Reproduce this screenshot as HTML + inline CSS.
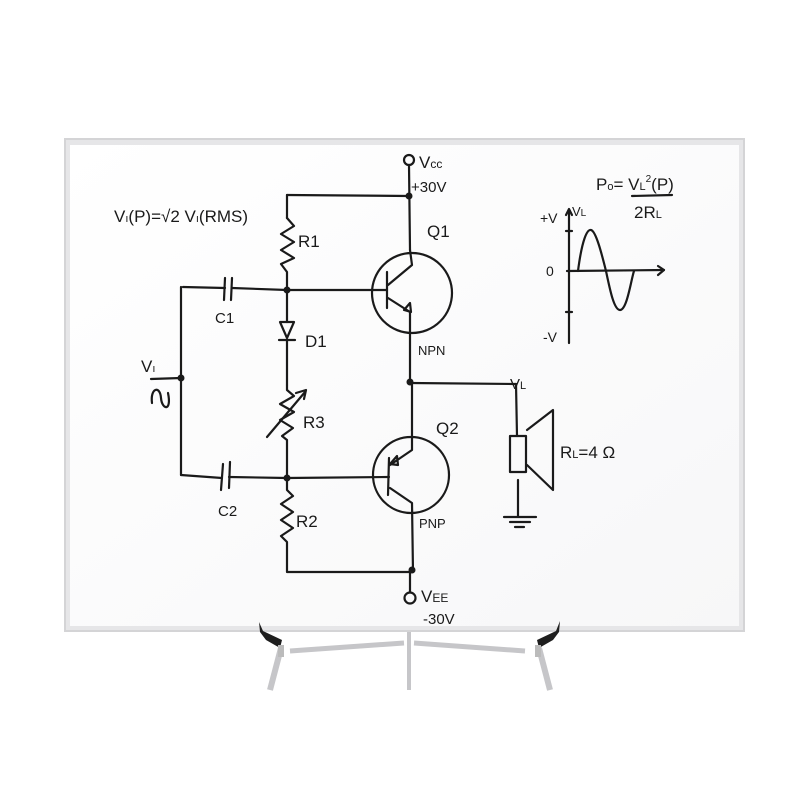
<!DOCTYPE html>
<html><head><meta charset="utf-8"><style>
html,body{margin:0;padding:0;background:#fff;}
svg{display:block}
text{font-family:"Liberation Sans",sans-serif;fill:#1a1a1a}
</style></head><body>
<svg width="800" height="800" viewBox="0 0 800 800" xmlns="http://www.w3.org/2000/svg">
<defs>
<linearGradient id="bd" x1="0" y1="0" x2="1" y2="1">
<stop offset="0" stop-color="#ffffff"/><stop offset="1" stop-color="#f7f7f8"/></linearGradient>
</defs>
<rect width="800" height="800" fill="#fff"/>
<!-- easel -->
<g stroke="#c6c6c9" fill="none">
<line x1="409" y1="630" x2="409" y2="690" stroke-width="4"/>
<line x1="290" y1="651" x2="404" y2="643" stroke-width="5"/>
<line x1="414" y1="643" x2="525" y2="651" stroke-width="5"/>
<line x1="281" y1="648" x2="270" y2="690" stroke-width="6"/>
<line x1="539" y1="648" x2="550" y2="690" stroke-width="6"/>
</g>
<rect x="64" y="138" width="681" height="494" fill="#d4d4d6"/>
<rect x="66" y="140" width="677" height="490" fill="#e6e6e8"/>
<rect x="70" y="145" width="669" height="481" fill="url(#bd)"/>
<path d="M259 622 L263 631 L282 640 L280 648 L266 640 L260 632 Z" fill="#1e1e1e"/>
<path d="M560 621 L556 631 L537 640 L539 648 L553 640 L559 632 Z" fill="#1e1e1e"/>
<rect x="278" y="645" width="6" height="12" fill="#bbb"/>
<rect x="535" y="645" width="6" height="12" fill="#bbb"/>

<g stroke="#1a1a1a" stroke-width="2.2" fill="none" stroke-linecap="round" stroke-linejoin="round">
<circle cx="409" cy="160" r="5"/>
<line x1="409" y1="165" x2="410" y2="250"/>
<line x1="287" y1="195" x2="409" y2="196"/>
<line x1="287" y1="195" x2="287" y2="218"/>
<polyline points="287,218 294,226 281,234 294,242 281,250 294,258 281,264 287,272 287,290"/>
<line x1="183" y1="287" x2="225" y2="288"/>
<line x1="225" y1="278" x2="224" y2="300"/>
<line x1="232" y1="278" x2="231" y2="300"/>
<line x1="232" y1="288" x2="287" y2="290"/>
<line x1="287" y1="290" x2="387" y2="290"/>
<circle cx="412" cy="293" r="40"/>
<line x1="387" y1="272" x2="387" y2="308"/>
<polyline points="388,285 412,265 410,250"/>
<polyline points="388,298 410,312"/>
<path d="M404 310 L410 303 L411 312 Z"/>
<line x1="410" y1="312" x2="410" y2="382"/>
<line x1="287" y1="290" x2="287" y2="322"/>
<path d="M280 322 L294 322 L287 338 Z"/>
<line x1="279" y1="340" x2="295" y2="340"/>
<line x1="287" y1="340" x2="287" y2="385"/>
<polyline points="287,385 287,390 294,396 280,404 294,412 280,420 293,428 282,436 287,440 287,478"/>
<line x1="267" y1="437" x2="305" y2="392"/>
<polyline points="296,393 306,390 304,399"/>
<line x1="181" y1="287" x2="181" y2="475"/>
<line x1="151" y1="379" x2="181" y2="378"/>
<path d="M152 403 C150 388 160 385 161 398 C162 410 172 412 168 393"/>
<line x1="181" y1="475" x2="222" y2="478"/>
<line x1="223" y1="464" x2="221" y2="490"/>
<line x1="230" y1="462" x2="229" y2="488"/>
<line x1="229" y1="477" x2="287" y2="478"/>
<line x1="287" y1="478" x2="389" y2="477"/>
<circle cx="411" cy="475" r="38"/>
<line x1="389" y1="458" x2="388" y2="495"/>
<polyline points="390,465 412,450 412,382"/>
<path d="M390 464 L397 456 L398 465 Z"/>
<polyline points="390,488 412,503 413,572"/>
<polyline points="287,478 287,490 293,496 281,504 293,512 281,520 293,528 281,536 287,542 287,572 409,572"/>
<circle cx="410" cy="598" r="5.5"/>
<line x1="410" y1="572" x2="410" y2="592"/>
<line x1="410" y1="383" x2="516" y2="384"/>
<line x1="516" y1="384" x2="517" y2="436"/>
<rect x="510" y="436" width="16" height="36"/>
<polyline points="527,430 553,410 553,490 527,465"/>
<line x1="518" y1="480" x2="518" y2="516"/>
<line x1="504" y1="517" x2="536" y2="517"/>
<line x1="510" y1="522" x2="530" y2="522"/>
<line x1="515" y1="527" x2="524" y2="527"/>
<line x1="569" y1="210" x2="569" y2="343"/>
<polyline points="566,215 569,209 572,215"/>
<line x1="566" y1="231" x2="572" y2="231"/>
<line x1="566" y1="312" x2="572" y2="312"/>
<line x1="567" y1="271" x2="664" y2="270"/>
<polyline points="658,266 664,270 658,275"/>
<path d="M578 271 C582 240 587 229 591 230 C596 231 602 255 606 271 C610 290 614 310 620 310 C627 310 631 280 634 271"/>
<line x1="632" y1="196" x2="672" y2="195"/>
</g>
<g fill="#1a1a1a">
<circle cx="409" cy="196" r="3.5"/><circle cx="287" cy="290" r="3.5"/>
<circle cx="181" cy="378" r="3.5"/><circle cx="287" cy="478" r="3.5"/>
<circle cx="410" cy="382" r="3.5"/><circle cx="412" cy="570" r="3.5"/>
</g>
<g font-size="17">
<text x="419" y="168">V<tspan font-size="12">cc</tspan></text>
<text x="411" y="192" font-size="15">+30V</text>
<text x="427" y="237">Q1</text>
<text x="298" y="247">R1</text>
<text x="305" y="347">D1</text>
<text x="303" y="428">R3</text>
<text x="296" y="527">R2</text>
<text x="215" y="323" font-size="15">C1</text>
<text x="218" y="516" font-size="15">C2</text>
<text x="141" y="372">V<tspan font-size="11">ı</tspan></text>
<text x="418" y="355" font-size="13">NPN</text>
<text x="436" y="434">Q2</text>
<text x="419" y="528" font-size="13">PNP</text>
<text x="421" y="602">V<tspan font-size="12">EE</tspan></text>
<text x="423" y="624" font-size="15">-30V</text>
<text x="510" y="389" font-size="15">V<tspan font-size="11">L</tspan></text>
<text x="560" y="458">R<tspan font-size="11">L</tspan>=4 Ω</text>
<text x="114" y="222">V<tspan font-size="11">ı</tspan>(P)=√2 V<tspan font-size="11">ı</tspan>(RMS)</text>
<text x="596" y="190">P<tspan font-size="11">o</tspan>= V<tspan font-size="11">L</tspan><tspan font-size="10" dy="-8">2</tspan><tspan dy="8">(P)</tspan></text>
<text x="634" y="218">2R<tspan font-size="11">L</tspan></text>
<text x="540" y="223" font-size="14">+V</text>
<text x="572" y="216" font-size="13">V<tspan font-size="10">L</tspan></text>
<text x="546" y="276" font-size="14">0</text>
<text x="543" y="342" font-size="14">-V</text>
</g>
</svg>
</body></html>
